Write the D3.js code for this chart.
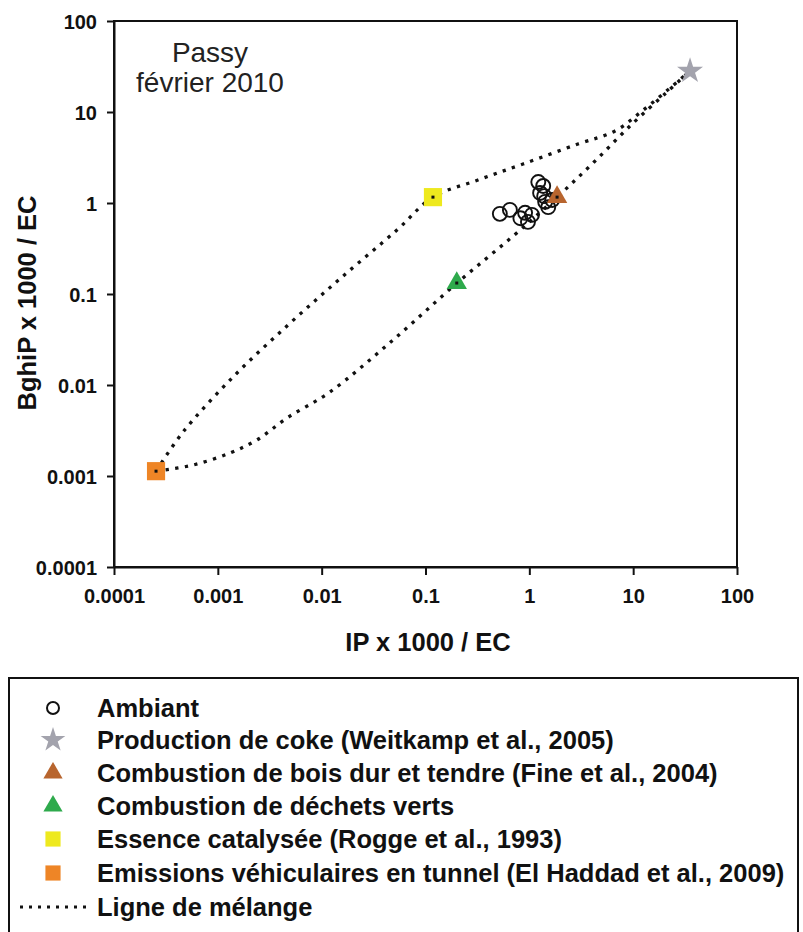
<!DOCTYPE html>
<html><head><meta charset="utf-8">
<script src="https://cdn.jsdelivr.net/npm/d3@7"></script>
<style>
html,body{margin:0;padding:0;background:#fff;}
svg{display:block;font-family:"Liberation Sans",Arial,sans-serif;}
</style></head>
<body><svg id="c" width="803" height="932"></svg>
<script>
// ---- data ----
const tickValues = [0.0001, 0.001, 0.01, 0.1, 1, 10, 100];
const tickLabels = ["0.0001", "0.001", "0.01", "0.1", "1", "10", "100"];

const ambientX = [0.52, 0.65, 0.91, 0.97, 1.06, 0.82, 1.22, 1.36, 1.27, 1.39, 1.42, 1.52, 1.66];
const ambientY = [0.76, 0.84, 0.78, 0.62, 0.74, 0.68, 1.70, 1.54, 1.29, 1.19, 1.03, 0.90, 1.08];

const sourceNames = ["Production de coke (Weitkamp et al., 2005)",
  "Combustion de bois dur et tendre (Fine et al., 2004)",
  "Combustion de déchets verts",
  "Essence catalysée (Rogge et al., 1993)",
  "Emissions véhiculaires en tunnel (El Haddad et al., 2009)"];
const sourceX = [35.3, 1.85, 0.20, 0.118, 0.000254];
const sourceY = [28.2, 1.16, 0.132, 1.16, 0.00113];
const sourceShape = ["star", "triangle", "triangle", "square", "square"];
const sourceColor = ["#a3a3ad", "#b8652e", "#2eaa4c", "#eee91e", "#ee8526"];

// mixing lines
const mixUpperX = [0.000254, 0.000462, 0.00140, 0.00474, 0.0157, 0.0531, 0.118, 0.320, 0.869, 2.94, 6.69, 12.2, 22.1, 35.3];
const mixUpperY = [0.00113, 0.00304, 0.01224, 0.0456, 0.1537, 0.505, 1.16, 1.789, 2.683, 4.45, 6.18, 10.26, 17.9, 28.2];
const mixLowerX = [0.000254, 0.000577, 0.00131, 0.00238, 0.00464, 0.0120, 0.0486, 0.201, 0.681, 1.85, 4.20, 9.54, 20.7, 35.3];
const mixLowerY = [0.00113, 0.00132, 0.00179, 0.00249, 0.00434, 0.00838, 0.0312, 0.132, 0.423, 1.16, 2.82, 7.20, 16.2, 28.2];

const titleLines = ["Passy", "février 2010"];
const xTitle = "IP x 1000 / EC";
const yTitle = "BghiP x 1000 / EC";
const ambientName = "Ambiant";
const lineName = "Ligne de mélange";

// ---- layout ----
const svg = d3.select("#c");
const L = 114, R = 737, T = 21, B = 567;
const x = d3.scaleLog().domain([1e-4, 100]).range([L, R]);
const y = d3.scaleLog().domain([1e-4, 100]).range([B, T]);

// frame
svg.append("rect").attr("x", L).attr("y", T).attr("width", R - L).attr("height", B - T)
  .attr("fill", "none").attr("stroke", "#111").attr("stroke-width", 2);

const fmt = v => tickLabels[tickValues.indexOf(v)];
const gx = svg.append("g").attr("transform", `translate(0,${B})`)
  .call(d3.axisBottom(x).tickValues(tickValues).tickFormat(fmt).tickSize(8).tickSizeOuter(0));
const gy = svg.append("g").attr("transform", `translate(${L},0)`)
  .call(d3.axisLeft(y).tickValues(tickValues).tickFormat(fmt).tickSize(7).tickSizeOuter(0));
[gx, gy].forEach(g => {
  g.select(".domain").attr("stroke", "#111").attr("stroke-width", 2);
  g.selectAll(".tick line").attr("stroke", "#111").attr("stroke-width", 2);
  g.selectAll(".tick text").attr("fill", "#111").attr("font-size", 20).attr("font-weight", "bold")
    .attr("font-family", "Liberation Sans, Arial, sans-serif");
});
gx.selectAll(".tick text").attr("y", 36).attr("dy", 0);
gy.selectAll(".tick text").attr("x", -17).attr("dy", "0.36em");

// axis titles
svg.append("text").attr("x", 428).attr("y", 651).attr("text-anchor", "middle")
  .attr("font-size", 25.5).attr("font-weight", "bold").attr("fill", "#111").text(xTitle);
svg.append("text").attr("transform", "translate(36,303) rotate(-90)").attr("text-anchor", "middle")
  .attr("font-size", 25.5).attr("font-weight", "bold").attr("fill", "#111").text(yTitle);

// chart title
svg.append("text").attr("x", 210).attr("y", 62).attr("text-anchor", "middle")
  .attr("font-size", 28).attr("fill", "#222").text(titleLines[0]);
svg.append("text").attr("x", 210).attr("y", 92).attr("text-anchor", "middle")
  .attr("font-size", 28).attr("fill", "#222").text(titleLines[1]);

// mixing lines
const line = d3.line().x(d => x(d[0])).y(d => y(d[1])).curve(d3.curveCatmullRom.alpha(0.5));
const dotStyle = p => p.attr("fill", "none").attr("stroke", "#111").attr("stroke-width", 3.3)
  .attr("stroke-dasharray", "3.3,6.4");
svg.append("path").datum(mixUpperX.map((v, i) => [v, mixUpperY[i]])).attr("d", line).call(dotStyle);
svg.append("path").datum(mixLowerX.map((v, i) => [v, mixLowerY[i]])).attr("d", line).call(dotStyle);

// symbols
function shapePath(shape, size) {
  if (shape === "star") return d3.symbol(d3.symbolStar, size)();
  if (shape === "triangle") return d3.symbol(d3.symbolTriangle, size)();
  return d3.symbol(d3.symbolSquare, size)();
}
const shapeSize = {star: 210, triangle: 180, square: 330};

// ambient circles
svg.append("g").selectAll("circle").data(ambientX.map((v, i) => [v, ambientY[i]])).join("circle")
  .attr("cx", d => x(d[0])).attr("cy", d => y(d[1])).attr("r", 7)
  .attr("fill", "none").attr("stroke", "#111").attr("stroke-width", 1.9);

// sources
svg.append("g").selectAll("path").data(sourceX.map((v, i) => i)).join("path")
  .attr("transform", i => `translate(${x(sourceX[i])},${y(sourceY[i])})`)
  .attr("d", i => shapePath(sourceShape[i], shapeSize[sourceShape[i]]))
  .attr("fill", i => sourceColor[i]);
// dotted line passes over sources: small center dots
svg.append("g").selectAll("rect").data(sourceX.map((v, i) => i).filter(i => i > 0)).join("rect")
  .attr("x", i => x(sourceX[i]) - 1.5).attr("y", i => y(sourceY[i]) - 1.5)
  .attr("width", 3).attr("height", 3).attr("fill", "#111");

// legend
const lg = svg.append("g");
lg.append("rect").attr("x", 9).attr("y", 678).attr("width", 789).attr("height", 270)
  .attr("fill", "none").attr("stroke", "#111").attr("stroke-width", 2);
const rowY = [708, 740, 773, 806, 839, 873, 907];
const legendNames = [ambientName].concat(sourceNames).concat([lineName]);
legendNames.forEach((name, i) => {
  lg.append("text").attr("x", 97).attr("y", rowY[i]).attr("dy", "0.36em")
    .attr("font-size", 25.5).attr("font-weight", "bold").attr("fill", "#111").text(name);
});
lg.append("circle").attr("cx", 53).attr("cy", rowY[0]).attr("r", 6)
  .attr("fill", "none").attr("stroke", "#111").attr("stroke-width", 2);
sourceShape.forEach((s, i) => {
  lg.append("path").attr("transform", `translate(53,${rowY[i + 1]})`)
    .attr("d", shapePath(s, s === "square" ? 230 : (s === "star" ? 190 : 160)))
    .attr("fill", sourceColor[i]);
});
lg.append("line").attr("x1", 20).attr("x2", 86).attr("y1", rowY[6]).attr("y2", rowY[6])
  .attr("stroke", "#111").attr("stroke-width", 3).attr("stroke-dasharray", "3,6");
</script>
</body></html>
